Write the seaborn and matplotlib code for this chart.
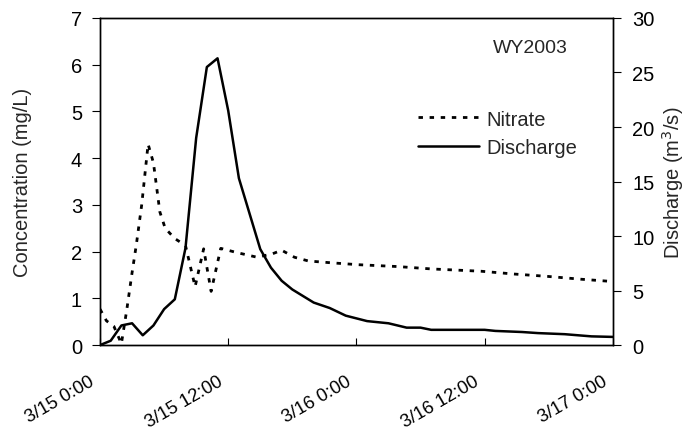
import matplotlib
matplotlib.use("Agg")
import matplotlib.pyplot as plt
import matplotlib.transforms as mtransforms
import seaborn as sns
import pandas as pd

# Discharge (m3/s), hours after 3/15 0:00
q_hours = [0, 1, 2, 3, 4, 5, 6, 7, 8, 9, 10, 11, 12, 13, 15, 16, 17, 18, 20, 21.5,
           23, 25, 27, 28.7, 30, 31, 36, 37, 39.5, 41, 43.5, 46, 48]
q_values = [0.0, 0.4, 1.8, 2.0, 0.9, 1.8, 3.3, 4.2, 8.9, 19.0, 25.5, 26.3, 21.5, 15.3,
            8.8, 7.1, 5.9, 5.1, 3.9, 3.4, 2.7, 2.2, 2.0, 1.6, 1.6, 1.4, 1.4, 1.3,
            1.2, 1.1, 1.0, 0.8, 0.75]

# Nitrate (mg/L), hours after 3/15 0:00
n_hours = [0, 0.6, 1.3, 2.0, 2.5, 3.0, 3.4, 3.9, 4.5, 5.0, 5.6, 6.1, 7.0, 8.0, 8.9,
           9.7, 10.4, 11.3, 12.8, 14.7, 16.1, 17.0, 18.2, 19.5, 21.7, 24.2, 27.9,
           31.0, 35.7, 38.8, 41.9, 45.0, 48.0]
n_values = [0.77, 0.52, 0.4, 0.03, 0.75, 1.55, 2.15, 3.0, 4.3, 3.9, 2.85, 2.5, 2.28,
            2.13, 1.25, 2.06, 1.15, 2.07, 1.98, 1.88, 1.95, 2.03, 1.88, 1.80, 1.76,
            1.72, 1.68, 1.63, 1.58, 1.52, 1.47, 1.41, 1.36]

x_ticks = [0, 12, 24, 36, 48]
x_labels = ["3/15 0:00", "3/15 12:00", "3/16 0:00", "3/16 12:00", "3/17 0:00"]

sns.set_style("ticks")
plt.rcParams["font.family"] = ["Liberation Sans", "DejaVu Sans"]

FS = 14.5

fig = plt.figure(figsize=(6.87, 4.31), dpi=100)
ax = fig.add_axes([0.1456, 0.197, 0.7464, 0.759])
ax2 = ax.twinx()

dq = pd.DataFrame({"hour": q_hours, "q": q_values})
dn = pd.DataFrame({"hour": n_hours, "n": n_values})

sns.lineplot(data=dn, x="hour", y="n", ax=ax, color="black", lw=2.0,
             linestyle=(0, (1.6, 2.4)), label="Nitrate", legend=False)
sns.lineplot(data=dq, x="hour", y="q", ax=ax2, color="black", lw=1.8,
             label="Discharge", legend=False)

ax.set_xlim(0, 48)
ax.set_ylim(0, 7)
ax2.set_ylim(0, 30)
ax.set_yticks(range(0, 8))
ax2.set_yticks(range(0, 31, 5))

ax.tick_params(axis="x", direction="in", length=5, pad=19.5, colors="black")
ax.tick_params(axis="y", direction="out", length=6, labelsize=FS, pad=7, colors="black")
ax2.tick_params(axis="y", direction="out", length=6, labelsize=FS, pad=8, colors="black")

ax.set_xticks(x_ticks)
ax.set_xticklabels(x_labels, rotation=30, ha="right", rotation_mode="anchor",
                   fontsize=13.2)
offset = mtransforms.ScaledTranslation(-11 / 100, 0, fig.dpi_scale_trans)
for lab in ax.get_xticklabels():
    lab.set_transform(lab.get_transform() + offset)

ax.set_xlabel("")
ax.set_ylabel("Concentration (mg/L)", fontsize=FS, labelpad=28)
ax2.set_ylabel("Discharge (m$^3$/s)", fontsize=FS, labelpad=4)

for a in (ax, ax2):
    for s in a.spines.values():
        s.set_visible(True)
        s.set_color("black")
        s.set_linewidth(1.0)

ax.text(0.84, 0.91, "WY2003", transform=ax.transAxes, ha="center", va="center",
        fontsize=FS - 0.5)

h1, l1 = ax.get_legend_handles_labels()
h2, l2 = ax2.get_legend_handles_labels()
ax2.legend(h1 + h2, l1 + l2, loc="upper right", bbox_to_anchor=(0.955, 0.757),
           frameon=False, fontsize=FS, handlelength=3.0, handletextpad=0.4,
           labelspacing=0.45, borderaxespad=0.2)

fig.savefig("out.png", dpi=100)
